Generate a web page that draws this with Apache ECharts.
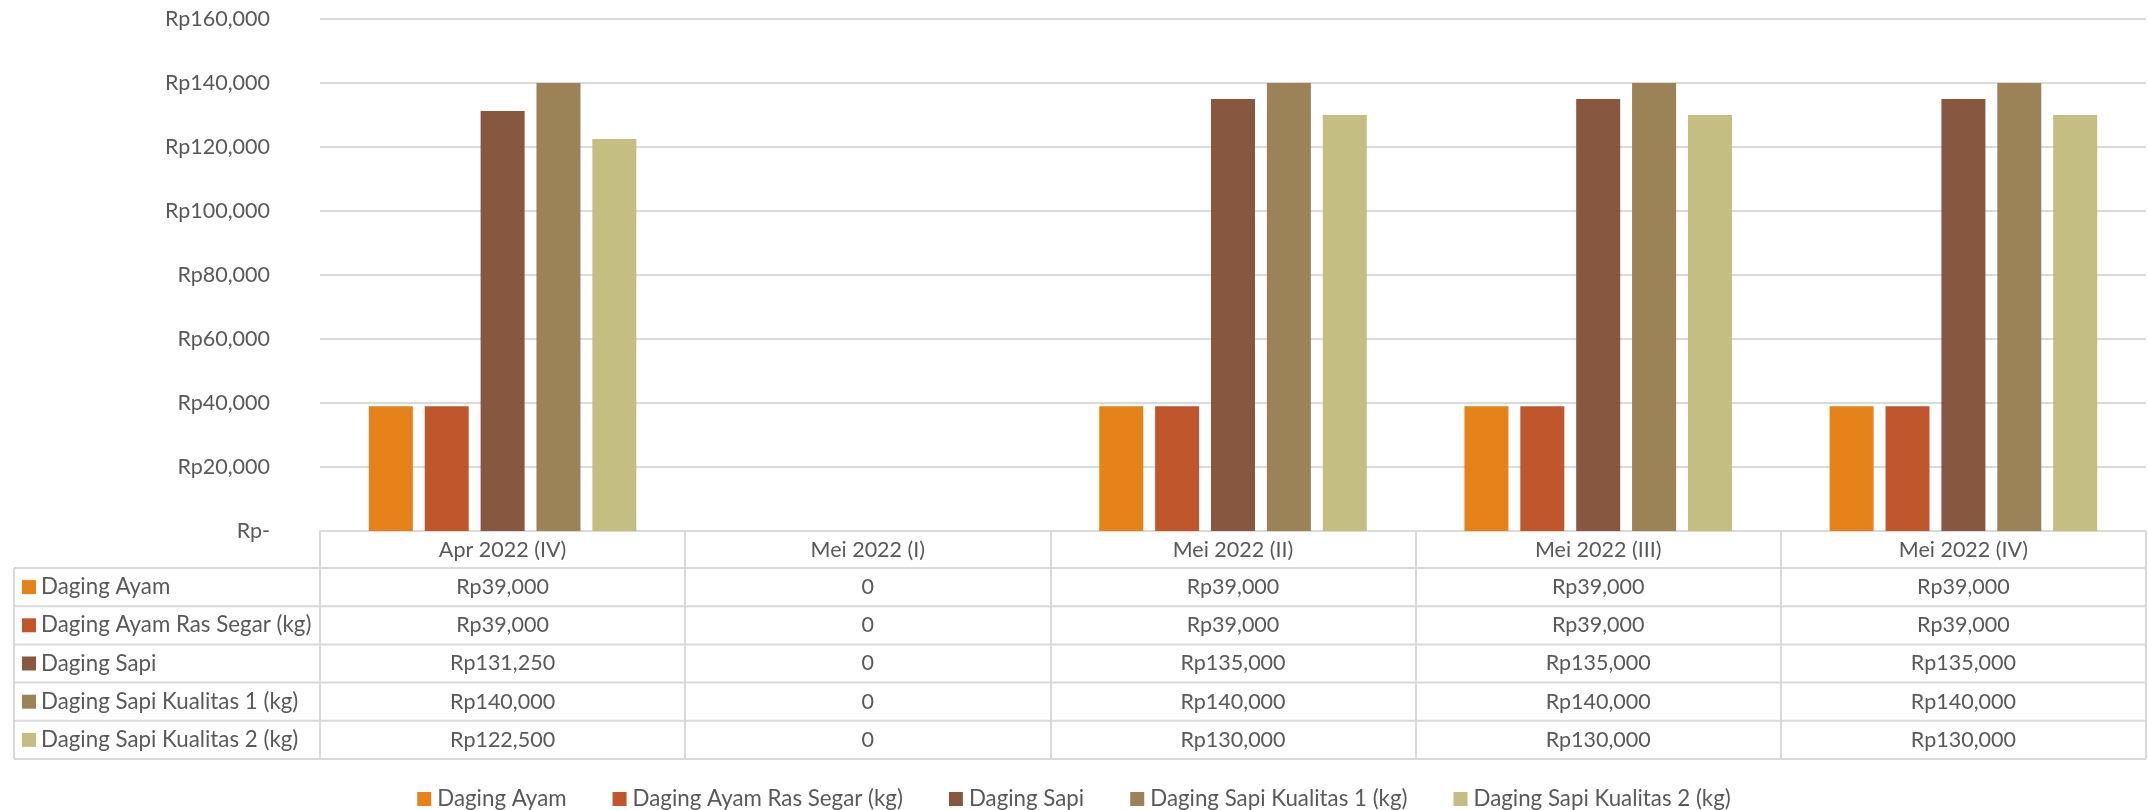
<!DOCTYPE html>
<html><head><meta charset="utf-8">
<script src="https://cdn.jsdelivr.net/npm/echarts@6/dist/echarts.min.js"></script>
<style>html,body{margin:0;padding:0;background:#fff}#c{width:2148px;height:810px}</style>
</head><body><div id="c"></div>
<script>
const categories = ['Apr 2022 (IV)', 'Mei 2022 (I)', 'Mei 2022 (II)', 'Mei 2022 (III)', 'Mei 2022 (IV)'];
const seriesNames = ['Daging Ayam', 'Daging Ayam Ras Segar (kg)', 'Daging Sapi', 'Daging Sapi Kualitas 1 (kg)', 'Daging Sapi Kualitas 2 (kg)'];
const dagingAyam = [39000, 0, 39000, 39000, 39000];
const dagingAyamRasSegar = [39000, 0, 39000, 39000, 39000];
const dagingSapi = [131250, 0, 135000, 135000, 135000];
const dagingSapiK1 = [140000, 0, 140000, 140000, 140000];
const dagingSapiK2 = [122500, 0, 130000, 130000, 130000];
const yTicks = [0, 20000, 40000, 60000, 80000, 100000, 120000, 140000, 160000];
const seriesValues = [dagingAyam, dagingAyamRasSegar, dagingSapi, dagingSapiK1, dagingSapiK2];
const colors = ['#E6821A', '#C0572C', '#875740', '#9C8357', '#C4BE82'];

const FONT = 'Lato';
const FS = 21.5;   // numbers / axis labels
const FN = 22.3;   // series names
const TXT = '#595959';
const LINE = '#d9d9d9';
const fmt = v => v === 0 ? '0' : 'Rp' + v.toLocaleString('en-US');
const fmtAxis = v => v === 0 ? 'Rp-' : 'Rp' + v.toLocaleString('en-US');

const G = {left: 320, right: 2, top: 19, bottom: 279};
const tableLeft = 14, rowH = 38.2, headH = 37;

const chart = echarts.init(document.getElementById('c'), null, {renderer: 'canvas'});
const option = {
  animation: false,
  color: colors,
  grid: G,
  legend: {
    top: 783, left: 'center', itemWidth: 14, itemHeight: 14, itemGap: 46,
    icon: 'rect',
    textStyle: {color: TXT, fontFamily: FONT, fontSize: FN, padding: [0, 0, 0, 1]},
    data: seriesNames
  },
  xAxis: {
    type: 'category', data: categories,
    axisLine: {lineStyle: {color: LINE, width: 2}},
    axisTick: {show: true, length: headH + 5 * rowH, lineStyle: {color: LINE, width: 2}},
    axisLabel: {color: TXT, fontFamily: FONT, fontSize: FS, margin: 8}
  },
  yAxis: {
    type: 'value', min: yTicks[0], max: yTicks[yTicks.length - 1], interval: yTicks[1] - yTicks[0],
    axisLine: {show: false}, axisTick: {show: false},
    axisLabel: {color: TXT, fontFamily: FONT, fontSize: FS, margin: 50, formatter: fmtAxis},
    splitLine: {lineStyle: {color: LINE, width: 2}}
  },
  series: seriesNames.map((n, i) => ({
    name: n, type: 'bar', data: seriesValues[i], barWidth: 44, barGap: '27%'
  }))
};
chart.setOption(option);

function drawTable() {
  const W = 2148, H = 810;
  const axisY = H - G.bottom;
  const right = W - G.right;
  const els = [];
  const rowTop = axisY + headH;
  for (let r = 0; r <= seriesNames.length; r++) {
    const y = rowTop + r * rowH;
    els.push({type: 'line', shape: {x1: tableLeft, y1: y, x2: right, y2: y}, style: {stroke: LINE, lineWidth: 2}});
  }
  els.push({type: 'line', shape: {x1: tableLeft, y1: rowTop, x2: tableLeft, y2: rowTop + seriesNames.length * rowH}, style: {stroke: LINE, lineWidth: 2}});
  seriesNames.forEach((n, r) => {
    const cy = rowTop + r * rowH + rowH / 2;
    els.push({type: 'rect', shape: {x: tableLeft + 8, y: cy - 7, width: 14, height: 14}, style: {fill: colors[r]}});
    els.push({type: 'text', x: tableLeft + 27, y: cy, style: {text: n, fill: TXT, font: FN + 'px ' + FONT, textAlign: 'left', textVerticalAlign: 'middle'}});
    categories.forEach((c, ci) => {
      const cx = chart.convertToPixel({xAxisIndex: 0}, c);
      els.push({type: 'text', x: cx, y: cy, style: {text: fmt(seriesValues[r][ci]), fill: TXT, font: FS + 'px ' + FONT, textAlign: 'center', textVerticalAlign: 'middle'}});
    });
  });
  chart.setOption({graphic: {elements: els}});
}
drawTable();
</script></body></html>
